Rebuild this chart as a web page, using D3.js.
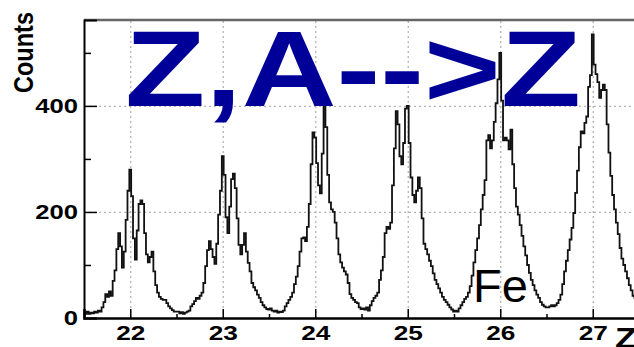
<!DOCTYPE html>
<html>
<head>
<meta charset="utf-8">
<style>
body { margin: 0; background: #fff; }
svg { display: block; }
svg text { font-family: "Liberation Sans", Arial, sans-serif; }
</style>
</head>
<body>

<svg id="mysvg" width="634" height="347"></svg>

<script src="https://d3js.org/d3.v7.min.js"></script>

<script>

// histogram of Z, bins 0.02 wide, first bin centred on 21.50
var zFirst = 21.5
var zStep = 0.02

var counts22 = [10,8,12,8,10,9,12,10,14,12, 20,30,45,40,50,42,70,90,130,160,
  135,95,125,185,240,280,230,150,110,165, 215,222,215,160,120,105,115,125,88,62,
  48,40,36,34,34,28,22,18,15,12,12]
var counts23 = [12,9,11,8,10,12,14,22,26,32, 38,36,42,48,66,98,128,145,130,115,
  102,140,195,240,305,270,190,160,210,262, 272,245,188,138,120,138,160,125,104,88,
  66,58,52,44,38,30,24,20,17,16]
var counts24 = [18,14,12,14,10,12,11,14,22,28, 34,40,48,64,78,98,125,150,152,145,
  172,215,290,350,340,292,250,235,310,410, 360,270,218,205,200,180,150,120,105,95,
  88,82,66,45,38,34,30,28,20,17]
var counts25 = [18,16,20,14,24,32,38,42,48,72, 90,115,160,172,168,180,250,320,390,365,
  305,290,330,395,400,330,265,232,218,240, 265,245,188,140,130,120,108,98,84,72,
  64,56,48,40,34,30,25,20,16,12]
var counts26 = [14,12,18,24,30,36,40,48,60,80, 105,128,150,175,205,232,260,335,345,320,
  335,370,405,450,500,410,335,340,335,318, 355,290,245,210,195,175,155,135,118,100,
  85,72,62,52,44,38,30,25,22,20]
var counts27 = [20,22,24,22,24,28,34,44,64,88, 108,128,148,170,198,236,278,322,352,348,
  368,380,436,458,535,478,460,445,415,430, 440,430,365,312,268,232,205,180,158,132,
  112,100,88,75,62,52,42,38,32,28]

var xMajor = [22, 23, 24, 25, 26, 27]
var xMinor = [21.5, 22.5, 23.5, 24.5, 25.5, 26.5, 27.5]
var yMajor = [0, 200, 400]
var yMinor = [100, 300, 500]

var counts = counts22.concat(counts23, counts24, counts25, counts26, counts27)
var bins = counts.map(function(c, i){
  return {z: zFirst + i*zStep - zStep/2, n: c}
})
bins.push({z: zFirst + counts.length*zStep - zStep/2, n: counts[counts.length-1]})

var pLeft = 84, pRight = 639, pTop = 20, pBottom = 318

var x = d3.scaleLinear().domain([21.5, 27.5]).range([pLeft, pRight])
var y = d3.scaleLinear().domain([0, 562]).range([pBottom, pTop])

var svg = d3.select("#mysvg")

svg.append("clipPath").attr("id", "plotclip")
   .append("rect")
   .attr("x", pLeft).attr("y", pTop)
   .attr("width", pRight - pLeft).attr("height", pBottom - pTop)

// dotted grid
svg.append("g")
   .attr("transform", "translate(0," + pBottom + ")")
   .call(d3.axisBottom(x).tickValues(xMajor).tickSize(-(pBottom - pTop)).tickFormat(""))
   .call(function(g){ g.select(".domain").remove() })
   .selectAll("line")
   .attr("stroke", "#b4b4b4").attr("stroke-width", 1.3).attr("stroke-dasharray", "2,3")

svg.append("g")
   .attr("transform", "translate(" + pLeft + ",0)")
   .call(d3.axisLeft(y).tickValues([200, 400]).tickSize(-(pRight - pLeft)).tickFormat(""))
   .call(function(g){ g.select(".domain").remove() })
   .selectAll("line")
   .attr("stroke", "#b4b4b4").attr("stroke-width", 1.3).attr("stroke-dasharray", "2,3")

// histogram
var line = d3.line()
   .x(function(d){ return x(d.z) })
   .y(function(d){ return y(d.n) })
   .curve(d3.curveStepAfter)

svg.append("path")
   .datum(bins)
   .attr("clip-path", "url(#plotclip)")
   .attr("d", line)
   .attr("fill", "none")
   .attr("stroke", "#111")
   .attr("stroke-width", 1.8)

// frame top
svg.append("line")
   .attr("x1", pLeft).attr("x2", pRight).attr("y1", pTop).attr("y2", pTop)
   .attr("stroke", "#666").attr("stroke-width", 2.5)

// x axis
var xAxis = svg.append("g")
   .attr("transform", "translate(0," + pBottom + ")")
   .call(d3.axisBottom(x).tickValues(xMajor).tickSize(-9).tickPadding(7).tickFormat(d3.format("d")))
xAxis.select(".domain").attr("stroke", "#000").attr("stroke-width", 2.5)
xAxis.selectAll("line").attr("stroke-width", 1.5)
xAxis.selectAll("text")
   .style("font-size", "21px").style("font-weight", "bold")
   .attr("fill", "#000")
   .attr("transform", "scale(1.25,1)")

svg.append("g")
   .attr("transform", "translate(0," + pBottom + ")")
   .call(d3.axisBottom(x).tickValues(xMinor).tickSize(-4).tickFormat(""))
   .call(function(g){ g.select(".domain").remove() })
   .selectAll("line").attr("stroke-width", 1.5)

// y axis
var yAxis = svg.append("g")
   .attr("transform", "translate(" + pLeft + ",0)")
   .call(d3.axisLeft(y).tickValues(yMajor).tickSize(-13).tickPadding(5))
yAxis.select(".domain").attr("stroke", "#000").attr("stroke-width", 2)
yAxis.selectAll("line").attr("stroke-width", 1.5)
yAxis.selectAll("text")
   .style("font-size", "21px").style("font-weight", "bold")
   .attr("fill", "#000")
   .attr("transform", "scale(1.22,1)")

svg.append("g")
   .attr("transform", "translate(" + pLeft + ",0)")
   .call(d3.axisLeft(y).tickValues(yMinor).tickSize(-7).tickFormat(""))
   .call(function(g){ g.select(".domain").remove() })
   .selectAll("line").attr("stroke-width", 1.5)

// axis titles
svg.append("text")
   .attr("transform", "translate(33,52.5) scale(1.2,1) rotate(-90)")
   .attr("text-anchor", "middle")
   .style("font-size", "23.5px").style("font-weight", "bold")
   .text("Counts")

svg.append("text")
   .attr("transform", "translate(615,348) scale(1.2,1)")
   .style("font-size", "30px").style("font-weight", "bold")
   .text("Z")

// labels on the plot
svg.append("text")
   .attr("x", 473).attr("y", 302)
   .style("font-size", "47px")
   .text("Fe")

var title = svg.append("text")
   .style("font-size", "108px").style("font-weight", "bold")
   .attr("fill", "#000099")
   .text("Z,A-->Z")
var tw = title.node().getComputedTextLength()
title.attr("transform", "translate(125,105.7) scale(" + (456/tw) + ",1)")

</script>

</body>
</html>
